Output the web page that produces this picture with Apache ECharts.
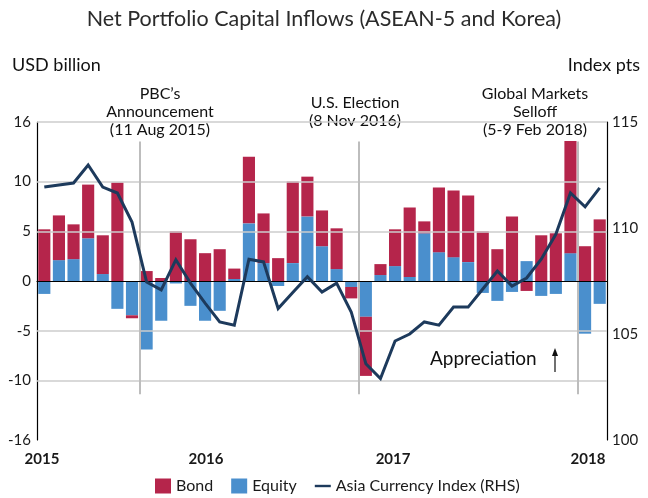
<!DOCTYPE html>
<html>
<head>
<meta charset="utf-8">
<script src="https://cdn.jsdelivr.net/npm/echarts@6/dist/echarts.min.js"></script>
<style>
  html, body { margin: 0; padding: 0; background: #ffffff; }
  #chart { width: 648px; height: 498px; }
</style>
</head>
<body>
<div id="chart"></div>
<script>
// Monthly categories, Jan 2015 – Mar 2018
const months = [
  '2015-01','2015-02','2015-03','2015-04','2015-05','2015-06','2015-07','2015-08','2015-09','2015-10','2015-11','2015-12',
  '2016-01','2016-02','2016-03','2016-04','2016-05','2016-06','2016-07','2016-08','2016-09','2016-10','2016-11','2016-12',
  '2017-01','2017-02','2017-03','2017-04','2017-05','2017-06','2017-07','2017-08','2017-09','2017-10','2017-11','2017-12',
  '2018-01','2018-02','2018-03'
];

// Net bond inflows, USD billion
const bond = [
  5.2, 4.5, 3.5, 5.4, 3.9, 9.9, -0.3, 1.0, 0.3, 5.0, 4.2, 2.8,
  3.2, 1.05, 6.7, 5.0, 2.3, 8.2, 4.0, 3.6, 4.1, -1.15, -5.95, 1.1,
  3.7, 7.0, 1.2, 6.5, 6.7, 6.7, 5.0, 3.2, 6.5, -1.0, 4.6, 4.8,
  11.3, 3.5, 6.2
];

// Net equity inflows, USD billion
const equity = [
  -1.3, 2.1, 2.2, 4.3, 0.7, -2.8, -3.45, -6.9, -4.0, -0.25, -2.5, -4.0,
  -3.0, 0.2, 5.8, 1.8, -0.5, 1.8, 6.5, 3.5, 1.2, -0.6, -3.6, 0.6,
  1.5, 0.4, 4.8, 2.9, 2.4, 1.9, -1.2, -2.0, -1.1, 2.0, -1.5, -1.3,
  2.8, -5.3, -2.3
];

// Asia Currency Index, index points (right-hand scale)
const currencyIndex = [
  111.93, 112.03, 112.12, 112.97, 111.93, 111.65, 110.28, 107.45, 107.08, 108.5, 107.4, 106.46,
  105.57, 105.42, 108.53, 108.4, 106.2, 106.96, 107.7, 106.98, 107.4, 106.04, 103.6, 102.9,
  104.67, 105.0, 105.57, 105.42, 106.27, 106.27, 107.12, 107.97, 107.26, 107.64, 108.53, 109.7,
  111.65, 111.0, 111.89
];

// Tick labels
const leftTicks = [-16, -10, -5, 0, 5, 10, 16];
const leftGrid = [16, 10, 5, -5, -10];
const yearLabels = ['2015', '2016', '2017', '2018'];
const yearPos = [0.34, 11.56, 24.36, 37.7];   // in months from Jan 2015

// Event markers: month offset of each vertical line and its caption
const eventPos = [7, 22, 37];
const eventText = [
  "PBC\u2019s\nAnnouncement\n(11 Aug 2015)",
  "U.S. Election\n(8 Nov 2016)",
  "Global Markets\nSelloff\n(5-9 Feb 2018)"
];

const FONT = 'Lato, "Open Sans", sans-serif';
const BOND_COLOR = '#B5254B';
const EQUITY_COLOR = '#4A8FCD';
const LINE_COLOR = '#1D3A5C';

const chart = echarts.init(document.getElementById('chart'), null, { renderer: 'canvas' });

const option = {
  animation: false,
  backgroundColor: '#ffffff',
  textStyle: { fontFamily: FONT },
  grid: { left: 37, right: 41, top: 122, bottom: 58 },
  legend: {
    left: 150,
    top: 473,
    itemWidth: 16,
    itemHeight: 15,
    itemGap: 18,
    textStyle: { fontFamily: FONT, fontSize: 16, color: '#1a1a1a' },
    data: [
      { name: 'Bond', icon: 'rect' },
      { name: 'Equity', icon: 'rect' },
      { name: 'Asia Currency Index (RHS)', icon: 'path://M0,0h20v3h-20z' }
    ]
  },
  xAxis: [
    {
      type: 'category',
      data: months,
      boundaryGap: true,
      axisLine: { show: true, lineStyle: { color: '#000', width: 1.2 } },
      axisTick: { show: false },
      axisLabel: { show: false },
      splitLine: { show: false }
    },
    {
      type: 'value',
      min: 0,
      max: months.length,
      position: 'bottom',
      axisLine: { show: false },
      axisTick: { show: false },
      splitLine: { show: false },
      axisLabel: {
        show: true,
        customValues: yearPos,
        margin: 12,
        fontFamily: FONT,
        fontSize: 15,
        fontWeight: 'bold',
        color: '#1a1a1a',
        formatter: function (v) {
          let best = 0;
          for (let i = 1; i < yearPos.length; i++) {
            if (Math.abs(yearPos[i] - v) < Math.abs(yearPos[best] - v)) best = i;
          }
          return yearLabels[best];
        }
      }
    }
  ],
  yAxis: [
    {
      type: 'value',
      min: -16,
      max: 16,
      interval: 1,
      position: 'left',
      axisLine: { show: true, lineStyle: { color: '#000', width: 1.2 } },
      axisTick: { show: false },
      splitLine: { show: false },
      axisLabel: {
        customValues: leftTicks,
        margin: 6,
        fontFamily: FONT,
        fontSize: 15,
        color: '#1a1a1a'
      }
    },
    {
      type: 'value',
      min: 100,
      max: 115,
      interval: 5,
      position: 'right',
      axisLine: { show: true, lineStyle: { color: '#000', width: 1.2 } },
      axisTick: { show: false },
      splitLine: { show: false },
      axisLabel: {
        margin: 5,
        fontFamily: FONT,
        fontSize: 15,
        color: '#1a1a1a'
      }
    }
  ],
  series: [
    {
      // horizontal gridlines behind the bars
      name: 'gridlines',
      type: 'line',
      data: [],
      z: 1,
      silent: true,
      markLine: {
        silent: true,
        symbol: 'none',
        label: { show: false },
        lineStyle: { color: '#cccccc', width: 1.5, type: 'solid' },
        data: leftGrid.map(v => ({ yAxis: v }))
      }
    },
    {
      // event markers (vertical lines)
      name: 'events',
      type: 'line',
      xAxisIndex: 1,
      yAxisIndex: 0,
      data: [],
      z: 3,
      silent: true,
      markLine: {
        silent: true,
        symbol: 'none',
        label: { show: false },
        lineStyle: { color: '#bdbdbd', width: 2, type: 'solid' },
        data: eventPos.map(p => [{ coord: [p, 14.05] }, { coord: [p, -11.4] }])
      }
    },
    {
      name: 'Equity',
      type: 'bar',
      stack: 'flows',
      data: equity,
      barCategoryGap: '17%',
      itemStyle: { color: EQUITY_COLOR },
      z: 2
    },
    {
      name: 'Bond',
      type: 'bar',
      stack: 'flows',
      data: bond,
      barCategoryGap: '17%',
      itemStyle: { color: BOND_COLOR },
      z: 2
    },
    {
      // zero line on top of the bars
      name: 'zeroline',
      type: 'line',
      data: [],
      z: 4,
      silent: true,
      markLine: {
        silent: true,
        symbol: 'none',
        label: { show: false },
        lineStyle: { color: '#000000', width: 1.2, type: 'solid' },
        data: [{ yAxis: 0 }]
      }
    },
    {
      name: 'Asia Currency Index (RHS)',
      type: 'line',
      yAxisIndex: 1,
      data: currencyIndex,
      symbol: 'none',
      showSymbol: false,
      lineStyle: { color: LINE_COLOR, width: 3, join: 'miter' },
      itemStyle: { color: LINE_COLOR },
      z: 5
    }
  ],
  graphic: [
    {
      type: 'text',
      left: 'center',
      top: 8,
      style: { text: 'Net Portfolio Capital Inflows (ASEAN-5 and Korea)', fontFamily: FONT, fontSize: 21.5, fill: '#2b2b2b' }
    },
    {
      type: 'text',
      left: 12,
      top: 56,
      style: { text: 'USD billion', fontFamily: FONT, fontSize: 18, fill: '#111' }
    },
    {
      type: 'text',
      right: 8,
      top: 56,
      style: { text: 'Index pts', fontFamily: FONT, fontSize: 18, fill: '#111' }
    },
    {
      type: 'text',
      x: 160, y: 85,
      style: { text: eventText[0], fontFamily: FONT, fontSize: 16, lineHeight: 18, fill: '#111', align: 'center' }
    },
    {
      type: 'text',
      x: 355, y: 94,
      style: { text: eventText[1], fontFamily: FONT, fontSize: 16, lineHeight: 18, fill: '#111', align: 'center' }
    },
    {
      type: 'text',
      x: 535, y: 85,
      style: { text: eventText[2], fontFamily: FONT, fontSize: 16, lineHeight: 18, fill: '#111', align: 'center' }
    },
    {
      type: 'text',
      x: 430, y: 349,
      style: { text: 'Appreciation', fontFamily: FONT, fontSize: 19, fill: '#111' }
    },
    {
      type: 'line',
      shape: { x1: 555, y1: 372, x2: 555, y2: 355 },
      style: { stroke: '#111', lineWidth: 1.2 }
    },
    {
      type: 'polygon',
      shape: { points: [[555, 348], [552, 356], [558, 356]] },
      style: { fill: '#111' }
    }
  ]
};

chart.setOption(option);
</script>
</body>
</html>
